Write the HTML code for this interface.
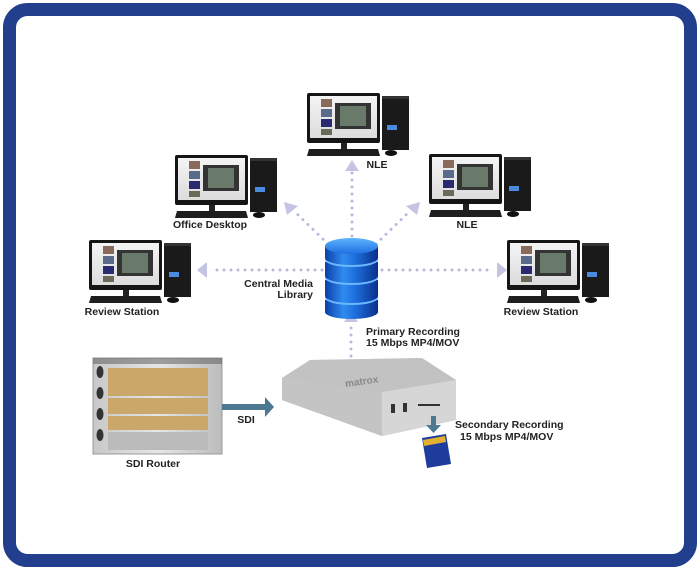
<!DOCTYPE html>
<html><head><meta charset="utf-8"><style>
html,body{margin:0;padding:0;background:#fff;}
svg{display:block;}
text{font-family:"Liberation Sans",Arial,sans-serif;font-weight:bold;font-size:10.5px;fill:#222;}
</style></head><body>
<svg width="700" height="570" viewBox="0 0 700 570" xmlns="http://www.w3.org/2000/svg">
<defs>
<linearGradient id="scr" x1="0" y1="0" x2="0" y2="1"><stop offset="0" stop-color="#f4f4f4"/><stop offset="1" stop-color="#dcdcdc"/></linearGradient>
<linearGradient id="db" x1="0" y1="0" x2="1" y2="0"><stop offset="0" stop-color="#0a3fa8"/><stop offset="0.35" stop-color="#2f8cf0"/><stop offset="0.6" stop-color="#1c6ad8"/><stop offset="1" stop-color="#0a2f8a"/></linearGradient>
<linearGradient id="dbt" x1="0" y1="0" x2="0" y2="1"><stop offset="0" stop-color="#5fb4ff"/><stop offset="1" stop-color="#1e6fe0"/></linearGradient>
<linearGradient id="dev" x1="0" y1="0" x2="0" y2="1"><stop offset="0" stop-color="#d8d8d8"/><stop offset="1" stop-color="#a8a8a8"/></linearGradient>
<linearGradient id="rt" x1="0" y1="0" x2="1" y2="0"><stop offset="0" stop-color="#c8c8c8"/><stop offset="0.5" stop-color="#e6e6e6"/><stop offset="1" stop-color="#bcbcbc"/></linearGradient>
<g id="pc">
 <rect x="75" y="3" width="27" height="54" fill="#1a1a1a"/>
 <rect x="75" y="3" width="27" height="3" fill="#333"/>
 <rect x="80" y="32" width="10" height="5" fill="#4a8ae0"/>
 <rect x="0" y="0" width="73" height="50" rx="2" fill="#151515"/>
 <rect x="3" y="3" width="67" height="42" fill="url(#scr)"/>
 <rect x="14" y="6" width="11" height="8" fill="#8a6a5a"/>
 <rect x="14" y="16" width="11" height="8" fill="#5a6a8a"/>
 <rect x="14" y="26" width="11" height="8" fill="#2a2a70"/>
 <rect x="14" y="36" width="11" height="6" fill="#6a6a5a"/>
 <rect x="28" y="10" width="36" height="26" fill="#333"/>
 <rect x="33" y="13" width="26" height="20" fill="#6a7a6a"/>
 <rect x="34" y="50" width="6" height="6" fill="#222"/>
 <path d="M2 56 L71 56 L73 63 L0 63 Z" fill="#1e1e1e"/>
 <ellipse cx="84" cy="60" rx="6" ry="3" fill="#111"/>
</g>
</defs>
<!-- frame -->
<rect x="9.5" y="9.5" width="681" height="551" rx="18" fill="#fff" stroke="#213f8c" stroke-width="13"/>

<!-- dotted connectors -->
<g stroke="#b9b9dc" stroke-width="3" stroke-linecap="round" stroke-dasharray="0 7" fill="none">
 <line x1="352" y1="236" x2="352" y2="172"/>
 <line x1="328" y1="244" x2="293" y2="210"/>
 <line x1="376" y1="244" x2="411" y2="210"/>
 <line x1="322" y1="270" x2="210" y2="270"/>
 <line x1="382" y1="270" x2="494" y2="270"/>
 <line x1="351" y1="363" x2="351" y2="322"/>
</g>
<g fill="#c4c4e4">
 <polygon points="352,160 345,171 359,171"/>
 <polygon points="284,202 287,215 298,206"/>
 <polygon points="420,202 406,206 417,215"/>
 <polygon points="197,270 207,262 207,278"/>
 <polygon points="507,270 497,262 497,278"/>
 <polygon points="351,312 344,322 358,322"/>
</g>

<!-- computers -->
<use href="#pc" x="307" y="93"/>
<use href="#pc" x="175" y="155"/>
<use href="#pc" x="429" y="154"/>
<use href="#pc" x="89" y="240"/>
<use href="#pc" x="507" y="240"/>

<!-- database -->
<g>
 <rect x="325" y="300" width="53" height="12" fill="url(#db)"/><ellipse cx="351.5" cy="312" rx="26.5" ry="7" fill="url(#db)"/>
 <ellipse cx="351.5" cy="298" rx="26.5" ry="7" fill="#6ab8ff"/>
 <rect x="325" y="280" width="53" height="16" fill="url(#db)"/><ellipse cx="351.5" cy="296" rx="26.5" ry="7" fill="url(#db)"/>
 <ellipse cx="351.5" cy="278" rx="26.5" ry="7" fill="#6ab8ff"/>
 <rect x="325" y="262" width="53" height="14" fill="url(#db)"/><ellipse cx="351.5" cy="276" rx="26.5" ry="7" fill="url(#db)"/>
 <ellipse cx="351.5" cy="260" rx="26.5" ry="7" fill="#6ab8ff"/>
 <rect x="325" y="246" width="53" height="12" fill="url(#db)"/><ellipse cx="351.5" cy="258" rx="26.5" ry="7" fill="url(#db)"/>
 <ellipse cx="351.5" cy="246" rx="26.5" ry="8" fill="url(#dbt)"/>
</g>

<!-- router -->
<rect x="93" y="358" width="129" height="96" fill="url(#rt)" stroke="#999" stroke-width="1"/>
<rect x="93" y="358" width="129" height="6" fill="#555" opacity="0.5"/>
<g fill="#c9a86a">
 <rect x="108" y="368" width="100" height="28"/>
 <rect x="108" y="398" width="100" height="16" />
 <rect x="108" y="416" width="100" height="14"/>
</g>
<g fill="#333"><ellipse cx="100" cy="372" rx="3.5" ry="6"/><ellipse cx="100" cy="393" rx="3.5" ry="6"/><ellipse cx="100" cy="414" rx="3.5" ry="6"/><ellipse cx="100" cy="435" rx="3.5" ry="6"/></g>
<rect x="108" y="432" width="100" height="18" fill="#bbb"/>

<!-- SDI arrow -->
<rect x="222" y="404" width="44" height="6" fill="#4d7892"/>
<polygon points="265,397 274,407 265,417" fill="#4d7892"/>

<!-- device -->
<polygon points="282,378 310,360 422,358 456,380 456,420 382,436 282,400" fill="url(#dev)"/>
<polygon points="282,378 382,392 382,436 282,400" fill="#c4c4c4"/>
<polygon points="382,392 456,380 456,420 382,436" fill="#d6d6d6"/>
<polygon points="282,378 310,360 422,358 456,380 382,392" fill="#c2c2c2"/>
<text x="345" y="387" style="font-size:10px;fill:#888" transform="rotate(-8 345 383)">matrox</text>
<rect x="391" y="404" width="4" height="9" fill="#333"/><rect x="403" y="403" width="4" height="9" fill="#333"/>
<rect x="418" y="404" width="22" height="2" fill="#333"/>

<!-- sd arrow & card -->
<rect x="431" y="416" width="5" height="10" fill="#4d7892"/>
<polygon points="426,425 441,425 433.5,433" fill="#4d7892"/>
<polygon points="422,438 446,434 451,464 427,468" fill="#1e3c9c"/>
<polygon points="423,440 445,436 446,442 424,446" fill="#e2b030"/>

<!-- labels -->
<text x="377" y="168" text-anchor="middle">NLE</text>
<text x="210" y="228" text-anchor="middle">Office Desktop</text>
<text x="467" y="228" text-anchor="middle">NLE</text>
<text x="122" y="315" text-anchor="middle">Review Station</text>
<text x="541" y="315" text-anchor="middle">Review Station</text>
<text x="313" y="287" text-anchor="end">Central Media</text>
<text x="313" y="298" text-anchor="end">Library</text>
<text x="366" y="335">Primary Recording</text>
<text x="366" y="346">15 Mbps MP4/MOV</text>
<text x="246" y="423" text-anchor="middle">SDI</text>
<text x="153" y="467" text-anchor="middle">SDI Router</text>
<text x="455" y="428">Secondary Recording</text>
<text x="460" y="440">15 Mbps MP4/MOV</text>
</svg>
</body></html>
